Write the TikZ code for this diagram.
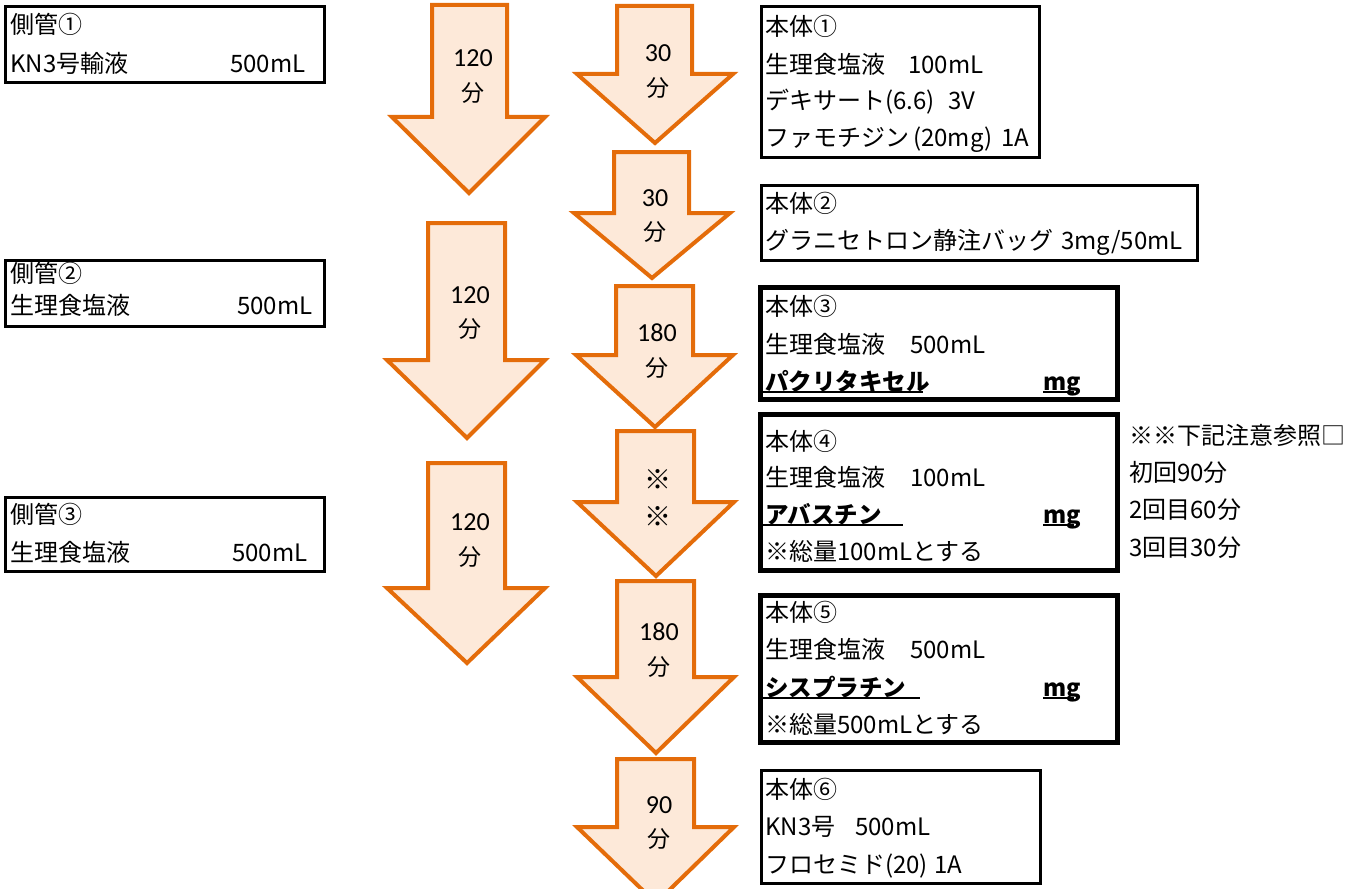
\documentclass[tikz,border=0pt]{standalone}
\usepackage{fontspec}
\setmainfont{Noto Sans CJK JP}
\newfontfamily\cjk{Noto Sans CJK JP}
\newfontfamily\carl{Carlito}
\definecolor{arrowline}{HTML}{E46C0A}
\definecolor{arrowfill}{HTML}{FDE9D9}
\tikzset{
  thinbox/.style={draw=black, line width=3pt},
  boldbox/.style={draw=black, line width=5pt},
  flow/.style={draw=arrowline, fill=arrowfill, line width=4pt, line join=miter},
  txt/.style={anchor=west, inner sep=0pt, font=\fontsize{24}{28}\selectfont, text height=21pt, text depth=4pt},
  btxt/.style={txt, font=\fontsize{23.5}{28}\selectfont\bfseries},
  num/.style={inner sep=0pt, font=\carl\fontsize{26}{29}\selectfont},
  fen/.style={inner sep=0pt, font=\cjk\fontsize{23}{27}\selectfont},
  kome/.style={inner sep=0pt, font=\cjk\fontsize{27}{30}\selectfont},
  uline/.style={draw=black, line width=2pt},
}
\begin{document}
\begin{tikzpicture}[x=1pt,y=-1pt]
\useasboundingbox (0,0) rectangle (1356,888);
\clip (0,0) rectangle (1356,888);
% ---------- side-line boxes ----------
\draw[thinbox] (5,7) rectangle (324,83);
\node[txt] (s1a) at (10,25) {側管①};
\node[txt] (s1b) at (10,64) {KN3号輸液};
\node[txt] (s1c) at (230,64) {500mL};
\draw[thinbox] (5,260) rectangle (324,326);
\node[txt] (s2a) at (10,274) {側管②};
\node[txt] (s2b) at (10,306) {生理食塩液};
\node[txt] (s2c) at (237,306) {500mL};
\draw[thinbox] (5,497) rectangle (324,571);
\node[txt] (s3a) at (10,515) {側管③};
\node[txt] (s3b) at (10,553) {生理食塩液};
\node[txt] (s3c) at (232,553) {500mL};
% ---------- left arrows ----------
\draw[flow] (432,5) -- (507,5) -- (507,117) -- (545,117) -- (469,193) -- (392,117) -- (432,117) -- cycle;
\node[num] (la1) at (473,58) {120};
\node[fen] (lb1) at (473,93) {分};
\draw[flow] (428,223) -- (505,223) -- (505,360) -- (545,360) -- (467,438) -- (387,360) -- (428,360) -- cycle;
\node[num] (la2) at (470,295) {120};
\node[fen] (lb2) at (470,329) {分};
\draw[flow] (428,463) -- (505,463) -- (505,588) -- (545,588) -- (467,663) -- (387,588) -- (428,588) -- cycle;
\node[num] (la3) at (470,522) {120};
\node[fen] (lb3) at (470,557) {分};
% ---------- main arrows ----------
\draw[flow] (617,6) -- (692,6) -- (692,74) -- (733,74) -- (655,143) -- (577,74) -- (617,74) -- cycle;
\node[num] (ra1) at (658,53) {30};
\node[fen] (rb1) at (658,88) {分};
\draw[flow] (614,152) -- (689,152) -- (689,213) -- (730,213) -- (652,278) -- (574,213) -- (614,213) -- cycle;
\node[num] (ra2) at (655,198) {30};
\node[fen] (rb2) at (655,232) {分};
\draw[flow] (616,286) -- (693,286) -- (693,355) -- (733,355) -- (655,427) -- (576,355) -- (616,355) -- cycle;
\node[num] (ra3) at (657,333) {180};
\node[fen] (rb3) at (657,368) {分};
\draw[flow] (617,431) -- (694,431) -- (694,502) -- (734,502) -- (656,576) -- (577,502) -- (617,502) -- cycle;
\node[kome] (ra4) at (658,480) {※};
\node[kome] (rb4) at (658,517) {※};
\draw[flow] (617,581) -- (694,581) -- (694,677) -- (734,677) -- (656,753) -- (577,677) -- (617,677) -- cycle;
\node[num] (ra5) at (659,632) {180};
\node[fen] (rb5) at (659,667) {分};
\draw[flow] (617,759) -- (694,759) -- (694,827) -- (734,827) -- (656,903) -- (577,827) -- (617,827) -- cycle;
\node[num] (ra6) at (659,805) {90};
\node[fen] (rb6) at (659,839) {分};
% ---------- main boxes ----------
% box 1
\draw[thinbox] (761,7) rectangle (1039,157);
\node[txt] (m1a) at (765,27) {本体①};
\node[txt] (m1b) at (765,65) {生理食塩液};
\node[txt] (m1c) at (908,65) {100mL};
\node[txt] (m1d) at (765,101) {デキサート(6.6)};
\node[txt] (m1e) at (948,101) {3V};
\node[txt] (m1f) at (765,138) {ファモチジン\,(20mg)};
\node[txt] (m1g) at (1001,138) {1A};
% box 2
\draw[thinbox] (761,185) rectangle (1197,260);
\node[txt] (m2a) at (765,204) {本体②};
\node[txt] (m2b) at (765,241) {グラニセトロン静注バッグ\hspace{8pt}3mg/50mL};
% box 3
\draw[boldbox] (760,287) rectangle (1117,399);
\node[txt] (m3a) at (765,307) {本体③};
\node[txt] (m3b) at (765,345) {生理食塩液};
\node[txt] (m3c) at (910,345) {500mL};
\node[btxt] (m3d) at (765,382) {パクリタキセル};
\node[btxt] (m3e) at (1043,382) {mg};
\coordinate (u3a) at (763,392);
\coordinate (u3b) at (923,392);
\coordinate (u3c) at (1043,392);
\coordinate (u3d) at (1074,392);
\draw[uline] (u3a) -- (u3b);
\draw[uline] (u3c) -- (u3d);
% box 4
\draw[boldbox] (760,414) rectangle (1117,570);
\node[txt] (m4a) at (765,442) {本体④};
\node[txt] (m4b) at (765,478) {生理食塩液};
\node[txt] (m4c) at (910,478) {100mL};
\node[btxt] (m4d) at (765,515) {アバスチン};
\node[btxt] (m4e) at (1043,515) {mg};
\node[txt] (m4f) at (765,552) {※総量100mLとする};
\coordinate (u4a) at (763,525);
\coordinate (u4b) at (903,525);
\coordinate (u4c) at (1043,525);
\coordinate (u4d) at (1074,525);
\draw[uline] (u4a) -- (u4b);
\draw[uline] (u4c) -- (u4d);
% note
\node[txt] (n1) at (1129,436) {※※下記注意参照□};
\node[txt] (n2) at (1129,473) {初回90分};
\node[txt] (n3) at (1129,510) {2回目60分};
\node[txt] (n4) at (1129,548) {3回目30分};
% box 5
\draw[boldbox] (760,595) rectangle (1117,742);
\node[txt] (m5a) at (765,613) {本体⑤};
\node[txt] (m5b) at (765,650) {生理食塩液};
\node[txt] (m5c) at (910,650) {500mL};
\node[btxt] (m5d) at (765,688) {シスプラチン};
\node[btxt] (m5e) at (1043,688) {mg};
\node[txt] (m5f) at (765,725) {※総量500mLとする};
\coordinate (u5a) at (763,698);
\coordinate (u5b) at (920,698);
\coordinate (u5c) at (1043,698);
\coordinate (u5d) at (1074,698);
\draw[uline] (u5a) -- (u5b);
\draw[uline] (u5c) -- (u5d);
% box 6
\draw[thinbox] (761,770) rectangle (1040,883);
\node[txt] (m6a) at (765,790) {本体⑥};
\node[txt] (m6b) at (765,827) {KN3号};
\node[txt] (m6c) at (855,827) {500mL};
\node[txt] (m6d) at (765,865) {フロセミド(20)};
\node[txt] (m6e) at (934,865) {1A};
\end{tikzpicture}
\end{document}
